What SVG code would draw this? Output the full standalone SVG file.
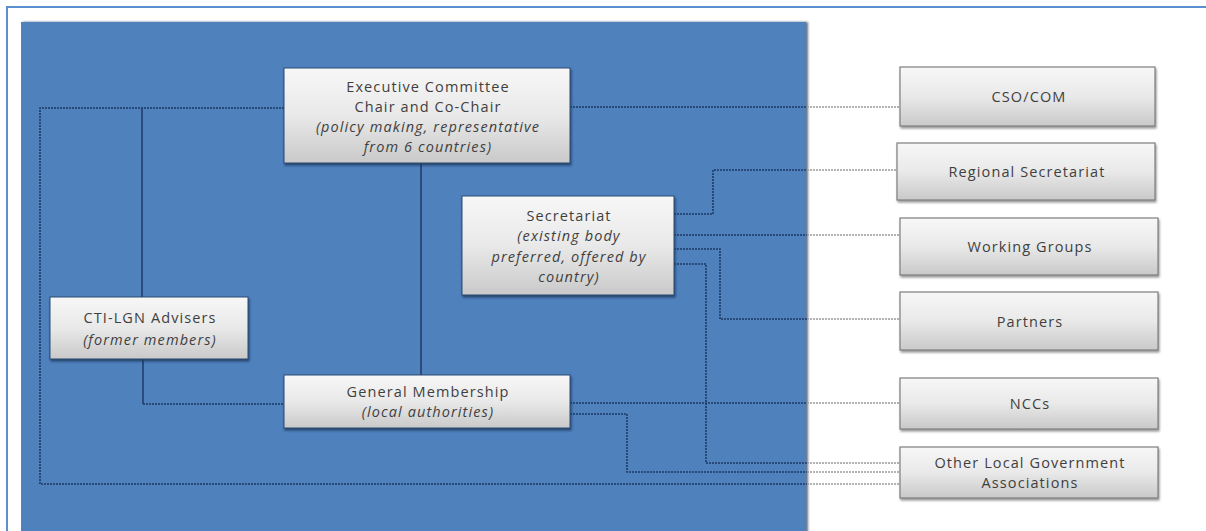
<svg xmlns="http://www.w3.org/2000/svg" width="1206" height="531" viewBox="0 0 1206 531">
<defs>
<linearGradient id="g" x1="0" y1="0" x2="0" y2="1">
<stop offset="0" stop-color="#f7f7f7"/>
<stop offset="0.5" stop-color="#e9e9e9"/>
<stop offset="1" stop-color="#c9c9c9"/>
</linearGradient>
<filter id="sh" x="-10%" y="-10%" width="120%" height="130%">
<feDropShadow dx="1" dy="2" stdDeviation="1" flood-color="#1d3557" flood-opacity="0.8"/>
</filter>
<filter id="sh2" x="-10%" y="-10%" width="120%" height="130%">
<feDropShadow dx="1" dy="2" stdDeviation="1" flood-color="#555" flood-opacity="0.6"/>
</filter>
<filter id="psh" x="-5%" y="-5%" width="110%" height="110%">
<feDropShadow dx="2" dy="0" stdDeviation="1" flood-color="#1d3557" flood-opacity="0.7"/>
</filter>
</defs>
<style>
.in{fill:url(#g);stroke:#2b4a75;stroke-width:1;filter:url(#sh)}
.out{fill:url(#g);stroke:#7f7f7f;stroke-width:1.2;filter:url(#sh2)}
text{font-family:"Open Sans","Liberation Sans",sans-serif;font-size:14.5px;letter-spacing:1.1px;fill:#3f3f3f;text-anchor:middle}
.it{font-style:italic}
.dot{fill:none;stroke:#1e3a66;stroke-width:1.6;stroke-dasharray:2 1}
.dotg{fill:none;stroke:#9a9a9a;stroke-width:1.5;stroke-dasharray:2 1}
.sol{fill:none;stroke:#1e3a66;stroke-width:1.5}
</style>
<rect width="1206" height="531" fill="#ffffff"/>
<path d="M7 531 V7 H1206" fill="none" stroke="#5b8fd0" stroke-width="2"/>
<rect x="21" y="22" width="785" height="520" fill="#4f81bd" filter="url(#psh)"/>
<g id="connectors">
<path class="dot" d="M284 108 H40 V484 H807"/>
<path class="sol" d="M142 108 V297"/>
<path class="sol" d="M143 359 V404"/>
<path class="dot" d="M143 404 H284"/>
<path class="sol" d="M421 163 V375"/>
<path class="dot" d="M570 107 H807"/>
<path class="dot" d="M674 214 H713 V170 H807"/>
<path class="dot" d="M674 235 H807"/>
<path class="dot" d="M674 249 H720 V319 H807"/>
<path class="dot" d="M674 264 H706 V463 H807"/>
<path class="dot" d="M570 403 H807"/>
<path class="dot" d="M570 414 H627 V472 H807"/>
<path class="dotg" d="M807 107 H900 M807 170 H897 M807 235 H900 M807 319 H900 M807 403 H900 M807 463 H900 M807 472 H900 M807 484 H900"/>
</g>
<g id="exec">
<rect class="in" x="284" y="68" width="286" height="95"/>
<text x="428" y="92">Executive Committee</text>
<text x="428" y="112">Chair and Co-Chair</text>
<text class="it" x="428" y="132">(policy making, representative</text>
<text class="it" x="428" y="152">from 6 countries)</text>
</g>
<g id="secretariat">
<rect class="in" x="462" y="196" width="212" height="99"/>
<text x="569" y="221">Secretariat</text>
<text class="it" x="569" y="241">(existing body</text>
<text class="it" x="569" y="262">preferred, offered by</text>
<text class="it" x="569" y="282">country)</text>
</g>
<g id="advisers">
<rect class="in" x="50" y="297" width="198" height="62"/>
<text x="150" y="323">CTI-LGN Advisers</text>
<text class="it" x="150" y="345">(former members)</text>
</g>
<g id="general">
<rect class="in" x="284" y="375" width="286" height="53"/>
<text x="428" y="397">General Membership</text>
<text class="it" x="428" y="417">(local authorities)</text>
</g>
<g id="cso">
<rect class="out" x="900" y="67" width="255" height="59"/>
<text x="1029" y="102">CSO/COM</text>
</g>
<g id="regional">
<rect class="out" x="897" y="143" width="258" height="57"/>
<text x="1027" y="177">Regional Secretariat</text>
</g>
<g id="working">
<rect class="out" x="900" y="218" width="258" height="57"/>
<text x="1030" y="252">Working Groups</text>
</g>
<g id="partners">
<rect class="out" x="900" y="292" width="258" height="58"/>
<text x="1030" y="327">Partners</text>
</g>
<g id="nccs">
<rect class="out" x="900" y="378" width="258" height="51"/>
<text x="1030" y="409">NCCs</text>
</g>
<g id="olga">
<rect class="out" x="900" y="447" width="258" height="51"/>
<text x="1030" y="468">Other Local Government</text>
<text x="1030" y="488">Associations</text>
</g>
</svg>
